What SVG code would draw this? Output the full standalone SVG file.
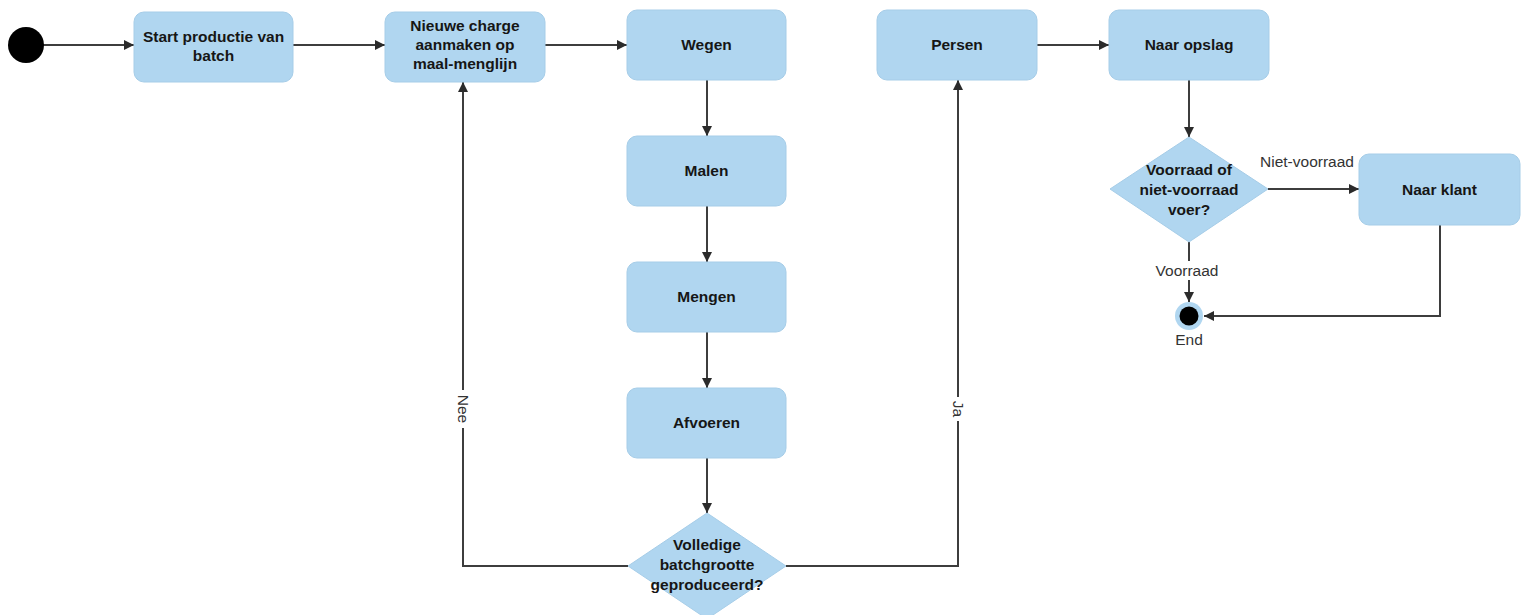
<svg xmlns="http://www.w3.org/2000/svg" width="1524" height="615" viewBox="0 0 1524 615">
<defs>
<style>
.box{fill:#b0d6f0;stroke:#a6cde8;stroke-width:1}
.t{font-family:"Liberation Sans",Arial,sans-serif;font-weight:bold;font-size:15.5px;fill:#161616;text-anchor:middle}
.lbl{font-family:"Liberation Sans",Arial,sans-serif;font-size:15.5px;fill:#333;text-anchor:middle}
.c{fill:none;stroke:#3d3d3d;stroke-width:2}
</style>
<marker id="arr" viewBox="0 0 10 10" refX="10" refY="5" markerWidth="12" markerHeight="10" markerUnits="userSpaceOnUse" orient="auto">
<path d="M0,0 L10,5 L0,10 z" fill="#2b2b2b"/>
</marker>
</defs>
<rect width="1524" height="615" fill="#ffffff"/>
<g id="connectors">
<path class="c" d="M43,45 H134" marker-end="url(#arr)"/>
<path class="c" d="M293,45 H385" marker-end="url(#arr)"/>
<path class="c" d="M545,45 H627" marker-end="url(#arr)"/>
<path class="c" d="M707,80 V136" marker-end="url(#arr)"/>
<path class="c" d="M707,206 V262" marker-end="url(#arr)"/>
<path class="c" d="M707,332 V388" marker-end="url(#arr)"/>
<path class="c" d="M707,458 V513" marker-end="url(#arr)"/>
<path class="c" d="M628,566 H463 V82" marker-end="url(#arr)"/>
<path class="c" d="M786,566 H958 V80" marker-end="url(#arr)"/>
<path class="c" d="M1037,45 H1109" marker-end="url(#arr)"/>
<path class="c" d="M1189,80 V137" marker-end="url(#arr)"/>
<path class="c" d="M1268,189 H1359" marker-end="url(#arr)"/>
<path class="c" d="M1189,242 V302" marker-end="url(#arr)"/>
<path class="c" d="M1440,225 V316 H1204" marker-end="url(#arr)"/>
<g id="label-nee"><rect x="454" y="390" width="18" height="38" fill="#fff"/><text class="lbl" transform="translate(463,409) rotate(90)" dy="5">Nee</text></g>
<g id="label-ja"><rect x="949" y="397" width="18" height="24" fill="#fff"/><text class="lbl" transform="translate(958,409) rotate(90)" dy="5">Ja</text></g>
<text class="lbl" x="1307" y="167">Niet-voorraad</text>
<g id="label-voorraad"><rect x="1153" y="261" width="72" height="19" fill="#fff"/><text class="lbl" x="1187" y="276">Voorraad</text></g>
</g>
<g id="start"><circle cx="26" cy="45" r="18" fill="#000"/></g>
<g id="n-start"><rect class="box" x="134" y="12" width="159" height="70" rx="10"/><text class="t" x="213.5" y="42">Start productie van</text><text class="t" x="213.5" y="61">batch</text></g>
<g id="n-charge"><rect class="box" x="385" y="12" width="160" height="70" rx="10"/><text class="t" x="465" y="31">Nieuwe charge</text><text class="t" x="465" y="50">aanmaken op</text><text class="t" x="465" y="69">maal-menglijn</text></g>
<g id="n-wegen"><rect class="box" x="627" y="10" width="159" height="70" rx="10"/><text class="t" x="706.5" y="50">Wegen</text></g>
<g id="n-malen"><rect class="box" x="627" y="136" width="159" height="70" rx="10"/><text class="t" x="706.5" y="176">Malen</text></g>
<g id="n-mengen"><rect class="box" x="627" y="262" width="159" height="70" rx="10"/><text class="t" x="706.5" y="302">Mengen</text></g>
<g id="n-afvoeren"><rect class="box" x="627" y="388" width="159" height="70" rx="10"/><text class="t" x="706.5" y="428">Afvoeren</text></g>
<g id="n-volledig"><polygon class="box" points="707,513 786,566 707,619 628,566"/><text class="t" x="707" y="550">Volledige</text><text class="t" x="707" y="570">batchgrootte</text><text class="t" x="707" y="590">geproduceerd?</text></g>
<g id="n-persen"><rect class="box" x="877" y="10" width="160" height="70" rx="10"/><text class="t" x="957" y="50">Persen</text></g>
<g id="n-opslag"><rect class="box" x="1109" y="10" width="160" height="70" rx="10"/><text class="t" x="1189" y="50">Naar opslag</text></g>
<g id="n-voorraad"><polygon class="box" points="1189,137 1268,189 1189,242 1110,189"/><text class="t" x="1189" y="175">Voorraad of</text><text class="t" x="1189" y="195">niet-voorraad</text><text class="t" x="1189" y="215">voer?</text></g>
<g id="n-klant"><rect class="box" x="1359" y="154" width="161" height="71" rx="10"/><text class="t" x="1439.5" y="195">Naar klant</text></g>
<g id="end"><circle cx="1189" cy="316" r="14" fill="#b0d6f0"/><circle cx="1189" cy="316" r="9.5" fill="#000"/><text class="lbl" x="1189" y="345">End</text></g>
</svg>
